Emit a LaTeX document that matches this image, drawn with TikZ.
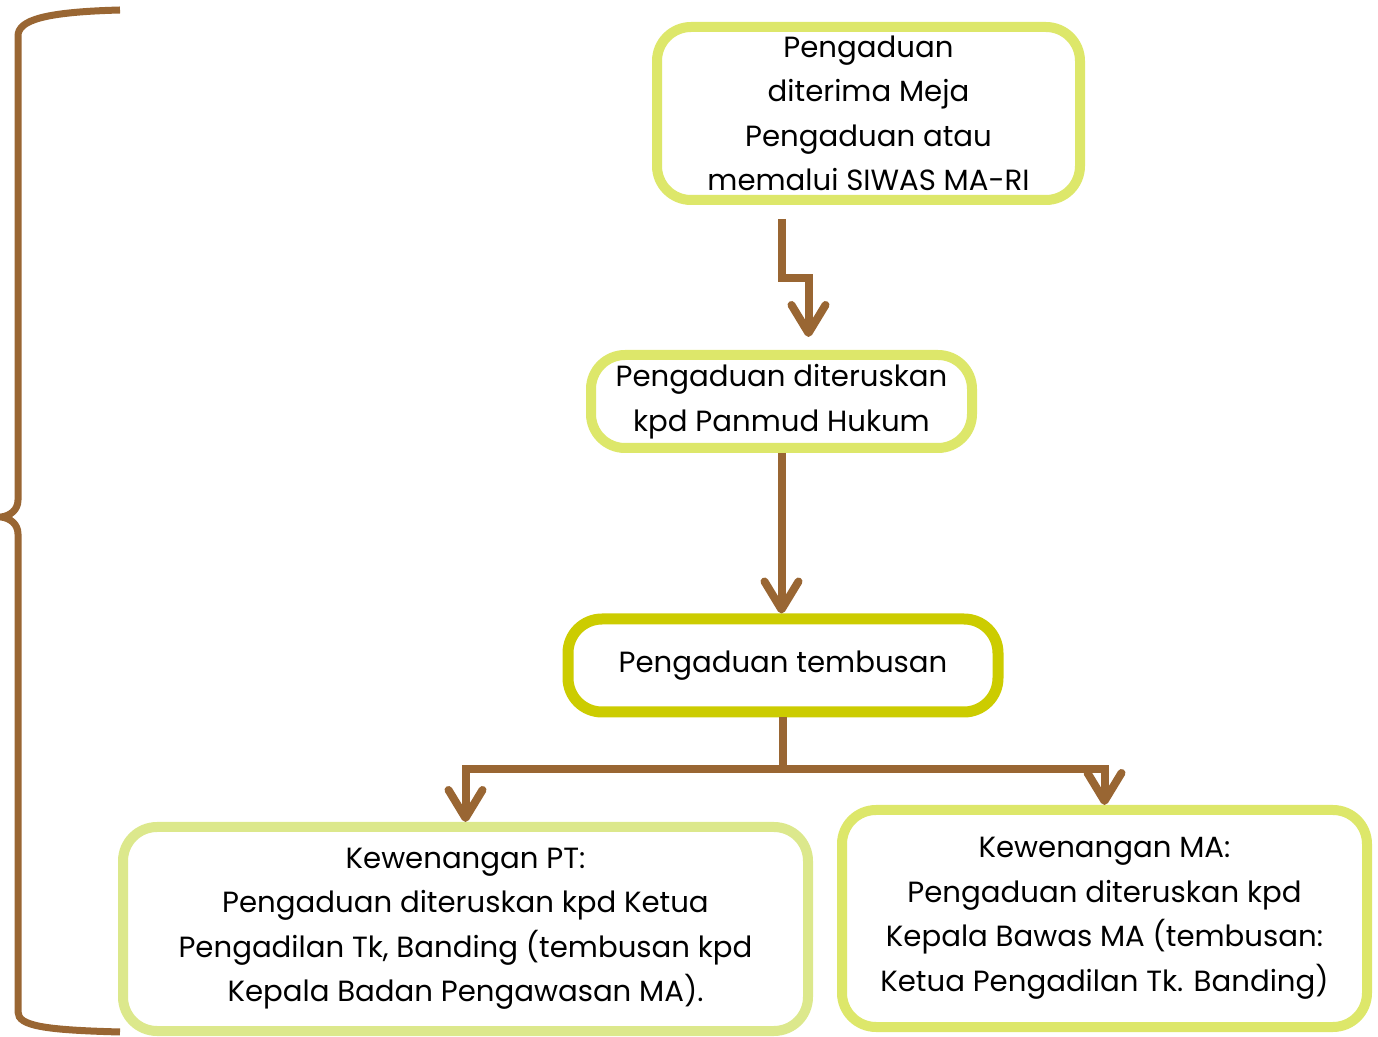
\documentclass[tikz,border=0pt]{standalone}
\usepackage{fontspec}
\setmainfont{Poppins}
\usetikzlibrary{positioning, arrows.meta}
\definecolor{Brown}{RGB}{153,102,51}
\definecolor{LimeA}{RGB}{221,231,106}
\definecolor{LimeB}{RGB}{204,204,0}
\definecolor{LimeC}{RGB}{220,232,140}
\tikzset{
	box/.append style={
		draw=LimeA,
		line width=5pt,
		rounded corners=17pt,
		align=center,
		fill=white,
		font=\fontsize{14.6}{22.25}\selectfont
	},
	flow/.append style={
		draw=Brown,
		line width=4pt,
		-{Straight Barb[length=14pt,width=17pt,round]}
	},
	brace/.append style={
		draw=Brown,
		line width=3.5pt
	}
}

\begin{document}
\begin{tikzpicture}[x=0.5pt, y=-0.5pt]
			\useasboundingbox (0,0) rectangle (1378,1037);

			\node(meja)[box, minimum width=211.5pt, minimum height=86.5pt] at (868.5,113.5) {Pengaduan\\ diterima Meja\\ Pengaduan atau\\ memalui SIWAS MA-RI};
			\node(panmud)[box, minimum width=190.5pt, minimum height=46.5pt] at (781.5,401.5) {Pengaduan diteruskan\\ kpd Panmud Hukum};
			\node(tembusan)[box, draw=LimeB, line width=5.5pt, minimum width=215pt, minimum height=46.5pt] at (783,665.5) {Pengaduan tembusan};

			\node(kewpt)[box, draw=LimeC, minimum width=342.5pt, minimum height=102pt] at (465.5,929) {Kewenangan PT:\\ Pengaduan diteruskan kpd Ketua\\ Pengadilan Tk, Banding (tembusan kpd\\ Kepala Badan Pengawasan MA).};
			\node(kewma)[box, minimum width=262.5pt, minimum height=108.5pt] at (1104.5,918.5) {Kewenangan MA:\\ Pengaduan diteruskan kpd\\ Kepala Bawas MA (tembusan:\\ Ketua Pengadilan Tk. Banding)};

			\draw[flow] ([yshift=-7pt]panmud.north |- meja.south) -- ++(0,59) -| ([xshift=13.5pt,yshift=6.5pt]panmud.north);
			\draw[flow] (panmud.south) -- (panmud.south |- tembusan.north);

			\coordinate(split) at ([yshift=-26pt]tembusan.south);
			\draw[flow] (tembusan.south) -- (split) -| (kewpt.north);
			\draw[flow] (split) -| (kewma.north);

			% kurung kurawal kiri
			\draw[brace] (120,10) .. controls (45,12) and (18,20) .. (18,36) -- (18,500)
				.. controls (18,510) and (10,516) .. (1,517) .. controls (10,518) and (18,524) .. (18,534)
				-- (18,1012) .. controls (18,1026) and (45,1030) .. (120,1032);
\end{tikzpicture}
\end{document}
